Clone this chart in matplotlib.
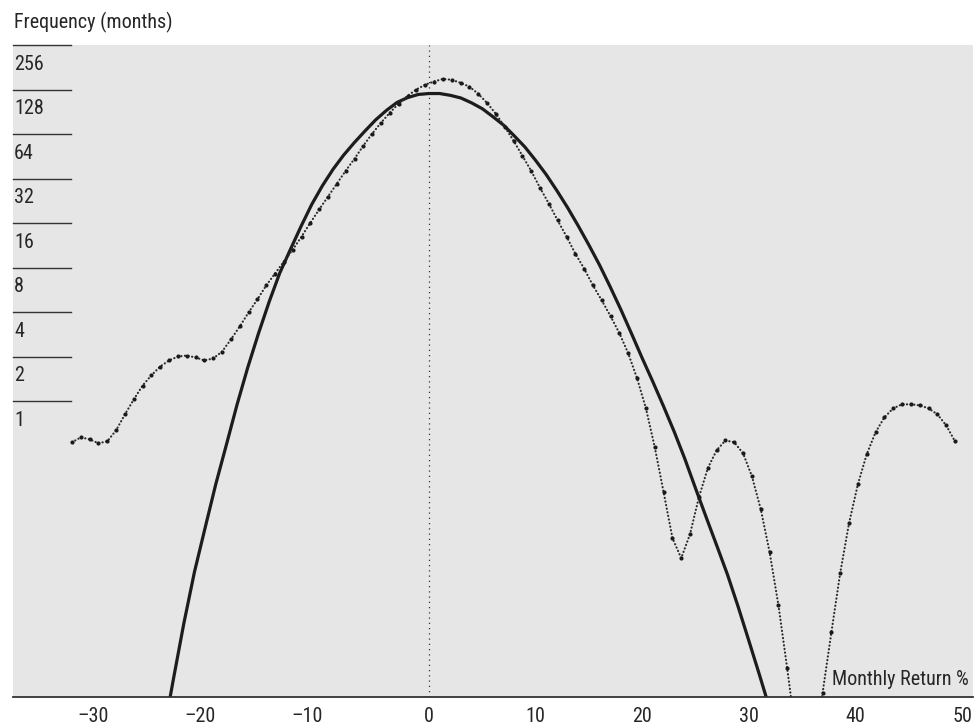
import matplotlib
matplotlib.use("Agg")
import matplotlib.pyplot as plt
from matplotlib import font_manager

# ---------------- data ----------------
y_tick_values = [256, 128, 64, 32, 16, 8, 4, 2, 1]
y_tick_labels = ["256", "128", "64", "32", "16", "8", "4", "2", "1"]
x_tick_values = [-30, -20, -10, 0, 10, 20, 30, 40, 50]
x_tick_labels = ["\u201330", "\u201320", "\u201310", "0", "10", "20", "30", "40", "50"]

# fitted distribution curve (months)
normal_x = [-25, -24, -23, -22, -21, -20, -19, -18, -17, -16, -15, -14, -13, -12, -11,
            -10, -9, -8, -7, -6, -5, -4, -3, -2, -1, 0, 1, 2, 3, 4,
            5, 6, 7, 8, 9, 10, 11, 12, 13, 14, 15, 16, 17, 18, 19,
            20, 21, 22, 23, 24, 25, 26, 27, 28, 29, 30, 31, 32, 33]
normal_freq = [0.00519, 0.01296, 0.03147, 0.0703, 0.1397, 0.2755, 0.5105, 0.9526, 1.6935, 2.868,
               4.691, 7.362, 10.63, 15.24, 21.41, 28.64, 37.01, 46.20, 56.10, 67.18,
               79.89, 92.41, 104.7, 113.0, 118.6, 120.3, 120.3, 117.0, 112.2, 104.0,
               95.0, 83.87, 73.52, 62.25, 52.35, 42.52, 34.06, 26.54, 20.39, 15.35,
               11.39, 8.34, 5.94, 4.17, 2.868, 1.9588, 1.3566, 0.9266, 0.6242, 0.4090,
               0.2588, 0.1649, 0.1058, 0.0675, 0.04095, 0.02418, 0.01418, 0.00820, 0.00484]

# actual (empirical) distribution (months)
actual_x = [-33.49, -32.66, -31.83, -31.01, -30.18, -29.35, -28.52, -27.69, -26.86, -26.04,
            -25.21, -24.38, -23.55, -22.72, -21.89, -21.07, -20.24, -19.41, -18.58, -17.75,
            -16.92, -16.10, -15.27, -14.44, -13.61, -12.78, -11.95, -11.13, -10.30, -9.47,
            -8.64, -7.81, -6.98, -6.16, -5.33, -4.50, -3.67, -2.84, -2.01, -1.19,
            -0.36, 0.47, 1.30, 2.13, 2.96, 3.78, 4.61, 5.44, 6.27, 7.10,
            7.93, 8.75, 9.58, 10.41, 11.24, 12.07, 12.90, 13.72, 14.55, 15.38,
            16.21, 17.04, 17.87, 18.69, 19.52, 20.35, 21.18, 22.01, 22.84, 23.66,
            24.49, 25.32, 26.15, 26.98, 27.81, 28.63, 29.46, 30.29, 31.12, 31.95,
            32.78, 33.60, 34.43, 35.26, 36.09, 36.92, 37.75, 38.57, 39.40, 40.23,
            41.06, 41.89, 42.72, 43.54, 44.37, 45.20, 46.03, 46.86, 47.69, 48.51,
            49.34]
actual_freq = [0.529, 0.571, 0.554, 0.521, 0.537, 0.637, 0.817, 1.03, 1.28, 1.50,
               1.72, 1.89, 2.01, 2.04, 1.98, 1.89, 1.95, 2.17, 2.62, 3.21,
               3.99, 4.88, 6.07, 7.31, 8.81, 10.6, 13.0, 16.1, 19.8, 24.2,
               29.6, 36.2, 43.7, 53.4, 64.4, 76.4, 89.3, 103.0, 116.0, 128.0,
               138.0, 145.0, 151.0, 149.0, 142.0, 134.0, 120.0, 104.0, 87.8, 71.8,
               57.8, 45.8, 36.2, 27.8, 21.7, 16.7, 13.0, 9.98, 7.90, 6.07,
               4.81, 3.75, 2.88, 2.11, 1.43, 0.897, 0.489, 0.243, 0.119, 0.0872,
               0.127, 0.225, 0.353, 0.467, 0.545, 0.529, 0.446, 0.312, 0.187, 0.0958,
               0.0419, 0.0157, 0.0055, 0.002, 0.0042, 0.0107, 0.0276, 0.0690, 0.150, 0.275,
               0.439, 0.618, 0.780, 0.897, 0.955, 0.955, 0.940, 0.897, 0.817, 0.689,
               0.537]

title_text = "Frequency (months)"
xlabel_text = "Monthly Return %"

# ---------------- font: prefer a condensed sans ----------------
def pick_font():
    entries = font_manager.fontManager.ttflist
    prefs = ['Liberation Sans Narrow', 'Roboto Condensed', 'Open Sans Condensed',
             'Noto Sans Condensed', 'DejaVu Sans Condensed', 'Noto Sans SemiCondensed']
    def ok(f):
        return f.style == 'normal'
    for p in prefs:
        cands = [f for f in entries if f.name == p and ok(f)]
        if cands:
            cands.sort(key=lambda f: abs((f.weight if isinstance(f.weight, int) else 400) - 400))
            return font_manager.FontProperties(fname=cands[0].fname), True
    cands = [f for f in entries if ok(f) and (
        'Narrow' in f.name or 'Condensed' in f.name or
        'condensed' in str(f.stretch) or 'Condensed' in f.fname or 'Narrow' in f.fname)]
    cands = [f for f in cands if 'Mono' not in f.name and 'Serif' not in f.name
             and 'CJK' not in f.name and 'Extra' not in f.fname and 'Ultra' not in f.fname]
    if cands:
        cands.sort(key=lambda f: abs((f.weight if isinstance(f.weight, int) else 400) - 400))
        return font_manager.FontProperties(fname=cands[0].fname), True
    return font_manager.FontProperties(family=['Roboto', 'DejaVu Sans']), False

base_fp, condensed = pick_font()
fs = 14.5 if condensed else 12.8
fp = base_fp.copy()
fp.set_size(fs)

# ---------------- figure ----------------
W, H = 978, 728
fig = plt.figure(figsize=(W / 100, H / 100), dpi=100)
ax = fig.add_axes([13 / W, 31 / H, 960 / W, 652 / H])
ax.set_facecolor('#e6e6e6')

ax.set_yscale('log', base=2)
ax.set_xlim(-39.02, 51.03)
ax.set_ylim(0.01005, 256)

text_color = '#262626'

# vertical dotted line at zero
ax.axvline(0, color='#333333', lw=0.9, linestyle=(0, (1, 3.2)), zorder=1)

# fitted curve
ax.plot(normal_x, normal_freq, color='#1c1c1c', lw=2.3, solid_capstyle='butt',
        solid_joinstyle='round', zorder=3)

# actual distribution: dotted line with point markers
ax.plot(actual_x, actual_freq, color='#2a2a2a', lw=1.55, linestyle=(0, (0.1, 1.6)),
        dash_capstyle='round', zorder=4)
ax.plot(actual_x, actual_freq, linestyle='none', marker='o', markersize=3.0,
        color='#1a1a1a', markeredgewidth=0, zorder=5)

# short horizontal segments and labels for y values
for v, lab in zip(y_tick_values, y_tick_labels):
    ax.axhline(v, xmin=0, xmax=0.0605, color='#333333', lw=1.0, clip_on=False, zorder=2)
    ax.annotate(lab, xy=(0, v), xycoords=('axes fraction', 'data'),
                xytext=(0.8, -13.8), textcoords='offset points',
                ha='left', va='center', fontproperties=fp, color=text_color)

ax.set_yticks([])
ax.yaxis.set_minor_locator(matplotlib.ticker.NullLocator())

ax.set_xticks(x_tick_values)
ax.set_xticklabels(x_tick_labels, color=text_color)
ax.tick_params(axis='x', length=0, pad=7)
for v, t in zip(x_tick_values, ax.get_xticklabels()):
    t.set_fontproperties(fp)
    if v < 0:
        t.set_ha('right')

for s in ['top', 'left', 'right']:
    ax.spines[s].set_visible(False)
ax.spines['bottom'].set_color('#333333')
ax.spines['bottom'].set_linewidth(1.3)
ax.spines['bottom'].set_zorder(6)

ax.text(0.9955, 0.012, xlabel_text, transform=ax.transAxes, ha='right', va='bottom',
        fontproperties=fp, color=text_color)
fig.text(14 / W, 1 - 22 / H, title_text, ha='left', va='center', fontproperties=fp,
         color=text_color)

fig.savefig('out.png', dpi=100)
